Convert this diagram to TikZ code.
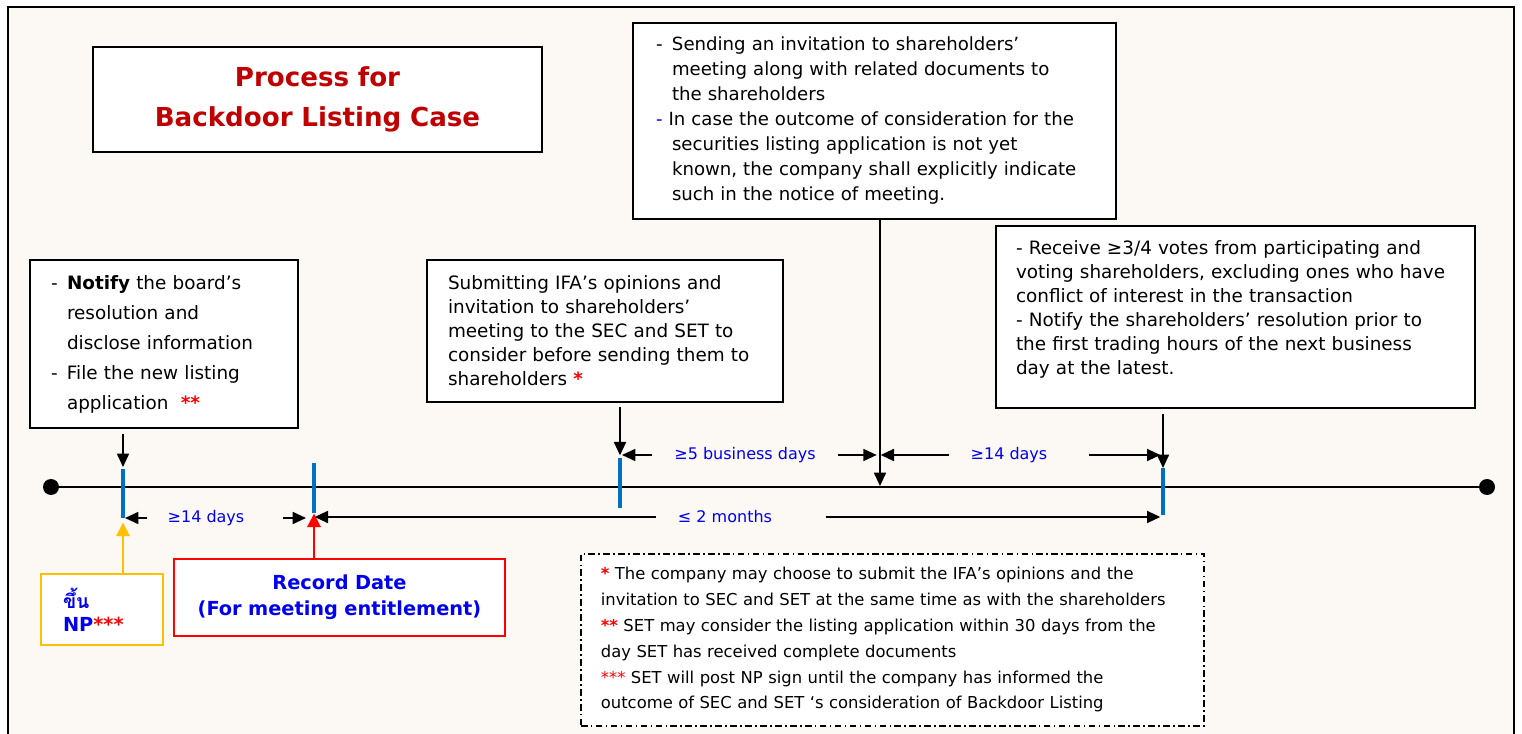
\documentclass[tikz,border=0pt]{standalone}
\usepackage{fontspec}
\setmainfont{DejaVu Sans}
\newfontfamily\thaifont[Script=Thai]{Loma}
\usetikzlibrary{arrows.meta}
\usetikzlibrary{positioning}

\definecolor{paper}{RGB}{252,248,244}
\definecolor{titlered}{RGB}{192,0,0}
\definecolor{tickblue}{RGB}{0,112,192}
\definecolor{labelblue}{RGB}{0,0,240}
\definecolor{npyellow}{RGB}{255,192,0}

\tikzstyle{info_box} = [
    draw=black,
    fill=white,
    line width=1.5pt,
    anchor=north west,
    align=left,
    inner ysep=0pt
]
\tikzstyle{title_box} = [
    info_box,
    align=center,
    inner xsep=0pt,
    text=titlered,
    font=\bfseries\fontsize{19.6}{30}\selectfont
]
\tikzstyle{date_box} = [
    info_box,
    draw=red,
    align=center,
    inner xsep=0pt,
    text=labelblue,
    font=\bfseries\fontsize{14.5}{19.5}\selectfont
]
\tikzstyle{np_box} = [
    info_box,
    draw=npyellow,
    text=labelblue,
    font=\bfseries\fontsize{14.5}{17}\selectfont
]
\tikzstyle{note_box} = [
    info_box,
    line width=1.3pt,
    dash pattern=on 5pt off 2.5pt on 1.2pt off 2.5pt,
    font=\fontsize{12.3}{19.35}\selectfont
]
\tikzstyle{gap_label} = [
    inner sep=0pt,
    text=labelblue,
    font=\fontsize{12}{14}\selectfont
]
\tikzstyle{end_dot} = [
    circle,
    fill=black,
    inner sep=0pt,
    minimum size=12pt
]
\tikzstyle{tick_mark} = [draw=tickblue, line width=3pt]
\tikzstyle{arrow_black} = [
    draw=black,
    line width=1.3pt,
    -{Triangle[length=10pt, width=9pt]}
]

\newcommand{\redstar}[1]{{\color{red}\bfseries#1}}
\newcommand{\dashed}{\makebox[12pt][l]{-}}
\newcommand{\hang}{\hspace*{12pt}}

\begin{document}
\begin{tikzpicture}[x=0.75pt, y=-0.75pt]
\useasboundingbox (0,0) rectangle (1522,734);
\fill[white] (0,0) rectangle (1522,734);
\fill[paper] (8,7) rectangle (1514,734);
\draw[line width=1.5pt] (8,734) -- (8,7) -- (1514,7) -- (1514,734);

% title
\node [title_box, text width=336.75pt, minimum height=78.75pt] (title) at (92,46)
    {Process for\\Backdoor Listing Case};

% boxes above the time line
\node [info_box, text width=169.5pt, inner xsep=15.75pt, minimum height=126pt,
       font=\fontsize{13.8}{22.5}\selectfont] (notify) at (29,259) {%
    \dashed\textbf{Notify} the board’s\\
    \hang resolution and\\
    \hang disclose information\\
    \dashed File the new listing\\
    \hang application \ \redstar{**}};
\node [info_box, text width=235.5pt, inner xsep=15.75pt, minimum height=106.5pt,
       font=\fontsize{13.8}{18}\selectfont] (submit) at (426,259) {%
    Submitting IFA’s opinions and\\
    invitation to shareholders’\\
    meeting to the SEC and SET to\\
    consider before sending them to\\
    shareholders \redstar{*}};
\node [info_box, text width=327.75pt, inner xsep=17.25pt, minimum height=147pt,
       font=\fontsize{13.6}{18.75}\selectfont] (sending) at (632,22) {%
    \dashed Sending an invitation to shareholders’\\
    \hang meeting along with related documents to\\
    \hang the shareholders\\
    {\color{labelblue}-}\ In case the outcome of consideration for the\\
    \hang securities listing application is not yet\\
    \hang known, the company shall explicitly indicate\\
    \hang such in the notice of meeting.};
\node [info_box, text width=329.25pt, inner xsep=15pt, minimum height=136.5pt,
       font=\fontsize{13.8}{18}\selectfont] (receive) at (995,225) {%
    - Receive ≥3/4 votes from participating and\\
    voting shareholders, excluding ones who have\\
    conflict of interest in the transaction\\
    - Notify the shareholders’ resolution prior to\\
    the first trading hours of the next business\\
    day at the latest.\\[-4pt]\mbox{}};

% time line
\node [end_dot] (tl_start) at (51,487) {};
\node [end_dot] (tl_end) at (1487,487) {};
\draw [line width=1.5pt] (tl_start) -- (tl_end);

\coordinate (t1_hi) at (123,469);
\coordinate (t1_lo) at (123,518);
\coordinate (t2_hi) at (314,463);
\coordinate (t2_lo) at (314,513);
\coordinate (t3_hi) at (620,458);
\coordinate (t3_lo) at (620,508);
\coordinate (t4_hi) at (1163,468);
\coordinate (t4_lo) at (1163,515);
\coordinate (meet) at (880,486);

\draw [tick_mark] (t1_hi) -- (t1_lo);
\draw [tick_mark] (t2_hi) -- (t2_lo);
\draw [tick_mark] (t3_hi) -- (t3_lo);
\draw [tick_mark] (t4_hi) -- (t4_lo);

% boxes below the time line
\node [np_box, text width=58.5pt, inner xsep=16.5pt, minimum height=53.25pt] (np) at (40,573)
    {{\thaifont ขึ้น}\\NP\redstar{***}};
\node [date_box, text width=248.25pt, minimum height=57.75pt] (record) at (173,558)
    {Record Date\\(For meeting entitlement)};
\node [note_box, text width=437.25pt, inner xsep=15pt, minimum height=129pt] (notes) at (580,553) {%
    \redstar{*} The company may choose to submit the IFA’s opinions and the\\
    invitation to SEC and SET at the same time as with the shareholders\\
    \redstar{**} SET may consider the listing application within 30 days from the\\
    day SET has received complete documents\\
    {\color{red}***} SET will post NP sign until the company has informed the\\
    outcome of SEC and SET ‘s consideration of Backdoor Listing};

% arrows to the time line
\draw [arrow_black, shorten <=4pt, shorten >=1.5pt] (notify.south -| t1_hi) -- (t1_hi);
\draw [arrow_black, shorten <=3pt, shorten >=2pt] (submit.south -| t3_hi) -- (t3_hi);
\draw [arrow_black] (sending.south -| meet) -- (meet);
\draw [arrow_black, shorten <=4pt] (receive.south -| t4_hi) -- (t4_hi);
\draw [arrow_black, draw=npyellow, -{Triangle[length=10pt, width=10pt]}, shorten >=3.5pt] (np.north -| t1_lo) -- (t1_lo);
\draw [arrow_black, draw=red, -{Triangle[length=10pt, width=10pt]}, shorten >=0.5pt] (record.north -| t2_lo) -- (t2_lo);

% spans
\node [gap_label] (gap1) at (206,518) {≥14 days};
\draw [arrow_black, shorten <=15pt, shorten >=1.5pt] (gap1.west) -- (gap1.west -| t1_lo);
\draw [arrow_black, shorten <=29pt, shorten >=6pt] (gap1.east) -- (gap1.east -| t2_lo);

\node [gap_label] (gap2) at (725,517) {≤ 2 months};
\draw [arrow_black, shorten <=16pt, shorten >=0.5pt] (gap2.west) -- (gap2.west -| t2_lo);
\draw [arrow_black, shorten <=40pt, shorten >=2pt] (gap2.east) -- (gap2.east -| t4_lo);

\node [gap_label] (gap3) at (745,455) {≥5 business days};
\draw [arrow_black, shorten <=16.5pt, shorten >=1.5pt] (gap3.west) -- (gap3.west -| t3_hi);
\draw [arrow_black, shorten <=16.5pt, shorten >=2.5pt] (gap3.east) -- (gap3.east -| meet);

\node [gap_label] (gap4) at (1009,455) {≥14 days};
\draw [arrow_black, shorten <=16pt, shorten >=0.5pt] (gap4.west) -- (gap4.west -| meet);
\draw [arrow_black, shorten <=31pt, shorten >=2pt] (gap4.east) -- (gap4.east -| t4_hi);
\end{tikzpicture}
\end{document}
